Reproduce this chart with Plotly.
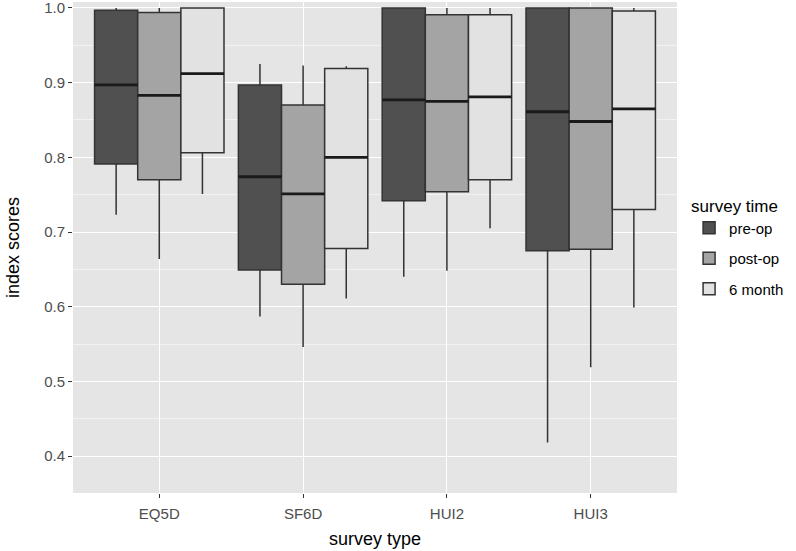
import plotly.graph_objects as go

survey_types = ["EQ5D", "SF6D", "HUI2", "HUI3"]
survey_times = ["pre-op", "post-op", "6 month"]

lower_whisker = {
    "pre-op":  [0.723, 0.587, 0.640, 0.418],
    "post-op": [0.664, 0.546, 0.648, 0.519],
    "6 month": [0.751, 0.611, 0.705, 0.599],
}
q1_values = {
    "pre-op":  [0.791, 0.649, 0.742, 0.675],
    "post-op": [0.770, 0.630, 0.754, 0.677],
    "6 month": [0.806, 0.678, 0.770, 0.730],
}
median_values = {
    "pre-op":  [0.897, 0.774, 0.877, 0.861],
    "post-op": [0.883, 0.751, 0.875, 0.848],
    "6 month": [0.912, 0.800, 0.881, 0.865],
}
q3_values = {
    "pre-op":  [0.997, 0.897, 1.000, 1.000],
    "post-op": [0.994, 0.870, 0.991, 1.000],
    "6 month": [1.000, 0.919, 0.991, 0.996],
}
upper_whisker = {
    "pre-op":  [1.000, 0.925, 1.000, 1.000],
    "post-op": [1.000, 0.923, 1.000, 1.000],
    "6 month": [1.000, 0.922, 1.000, 1.000],
}
fill_colors = {"pre-op": "#505050", "post-op": "#a4a4a4", "6 month": "#e2e2e2"}

fig = go.Figure()
for t in survey_times:
    fig.add_trace(go.Box(
        name=t,
        legendgroup=t,
        offsetgroup=t,
        x=survey_types,
        q1=q1_values[t],
        median=median_values[t],
        q3=q3_values[t],
        lowerfence=lower_whisker[t],
        upperfence=upper_whisker[t],
        fillcolor=fill_colors[t],
        line=dict(color="#333333", width=1.5),
        whiskerwidth=0,
        boxpoints=False,
    ))
# thicker median bars (ggplot style), drawn in the same offset slot
for t in survey_times:
    fig.add_trace(go.Box(
        name=t,
        legendgroup=t,
        offsetgroup=t,
        showlegend=False,
        hoverinfo="skip",
        x=survey_types,
        q1=median_values[t],
        median=median_values[t],
        q3=median_values[t],
        lowerfence=median_values[t],
        upperfence=median_values[t],
        fillcolor="rgba(0,0,0,0)",
        line=dict(color="#1a1a1a", width=2.8),
        whiskerwidth=0,
        boxpoints=False,
    ))

fig.update_layout(
    width=796, height=551,
    boxmode="group", boxgap=0.1, boxgroupgap=0,
    paper_bgcolor="white", plot_bgcolor="#e5e5e5",
    margin=dict(l=73, r=119, t=2, b=58, autoexpand=False),
    font=dict(family="Liberation Sans, Arial, sans-serif", size=15, color="#4d4d4d"),
    legend=dict(
        title=dict(text="survey time", font=dict(size=17, color="black")),
        x=1.02, xanchor="left", y=0.50, yanchor="middle",
        font=dict(size=15, color="black"),
        bgcolor="rgba(0,0,0,0)",
        tracegroupgap=8,
    ),
    showlegend=True,
)
fig.update_xaxes(
    title=dict(text="survey type", font=dict(size=18, color="black"), standoff=11),
    automargin=False,
    showgrid=True, gridcolor="white", gridwidth=1.2,
    ticks="outside", ticklen=4, tickcolor="#333333",
    ticklabelstandoff=3,
    zeroline=False, showline=False,
    range=[-0.6, 3.6],
)
fig.update_yaxes(
    title=dict(text="index scores", font=dict(size=18, color="black"), standoff=19),
    automargin=False,
    ticklabeloverflow="allow",
    range=[0.3505, 1.008],
    tickmode="array",
    tickvals=[0.4, 0.5, 0.6, 0.7, 0.8, 0.9, 1.0],
    ticktext=["0.4", "0.5", "0.6", "0.7", "0.8", "0.9", "1.0"],
    showgrid=True, gridcolor="white", gridwidth=1.2,
    minor=dict(tickmode="array", tickvals=[0.35, 0.45, 0.55, 0.65, 0.75, 0.85, 0.95],
               showgrid=True, gridcolor="#f2f2f2", gridwidth=0.6, ticks=""),
    ticks="outside", ticklen=4, tickcolor="#333333",
    zeroline=False, showline=False,
)

fig.write_html("out.html", config={"displayModeBar": False},
               post_script="document.body.style.margin='0px';")
